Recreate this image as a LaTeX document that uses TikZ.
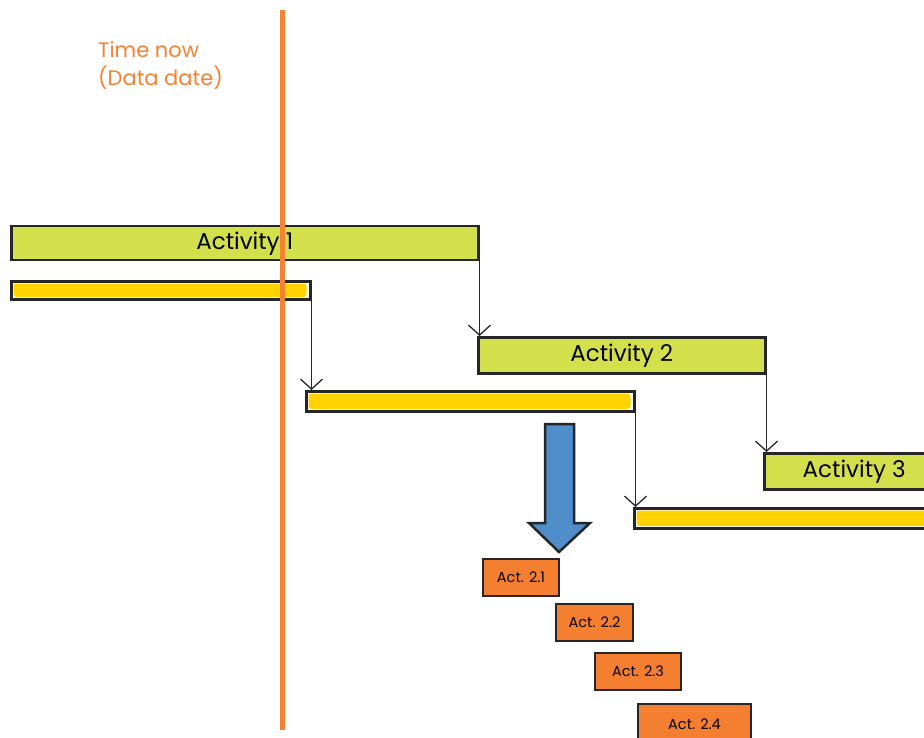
\documentclass[tikz,border=0pt]{standalone}
\usepackage{fontspec}
\setmainfont{Poppins}
\usetikzlibrary{arrows.meta,positioning}

\definecolor{nowline}{HTML}{F58233}
\definecolor{actgreen}{HTML}{D4E04B}
\definecolor{progyellow}{HTML}{FFD200}
\definecolor{pushblue}{HTML}{4F8DCB}
\definecolor{subfill}{HTML}{F47F30}

\begin{document}
\begin{tikzpicture}[x=1pt, y=-1pt, >={Straight Barb[length=10pt,width=22pt]},
    act/.style={draw=black!85, line width=2.5pt, fill=actgreen, anchor=north west,
        inner sep=0pt, font=\fontsize{23}{23}\selectfont},
    prog/.style={draw=black!85, line width=2.5pt, fill=white, anchor=north west, inner sep=0pt},
    sub/.style={draw=black!85, line width=2pt, fill=subfill, anchor=north west,
        inner sep=0pt, font=\fontsize{14.5}{14.5}\selectfont},
    link/.style={->, line width=1.3pt, black!85}]
    \clip (0,0) rectangle (924,738);

    % activities
    \node[act, minimum width=467pt, minimum height=34pt] (act1) at (10,225) {Activity 1};
    \node[act, minimum width=287pt, minimum height=36pt] (act2) at (477,336) {Activity 2};
    \node[act, minimum width=180pt, minimum height=36pt] (act3) at (763,452) {Activity 3};

    % progress bars
    \node[prog, minimum width=299pt, minimum height=18pt] (prog1) at (10,280) {};
    \node[prog, minimum width=328pt, minimum height=20pt] (prog2) at (305,390) {};
    \node[prog, minimum width=317pt, minimum height=20pt] (prog3) at (633,507) {};
    \foreach \p in {prog1,prog2,prog3}
        \fill[progyellow, rounded corners=3pt] ([shift={(3.5pt,-3.5pt)}]\p.north west)
            rectangle ([shift={(-5pt,3.5pt)}]\p.south east);

    % links
    \draw[link] (act1.south east) -- (act1.south east |- act2.north);
    \draw[link] (prog1.south east) -- (prog1.south east |- prog2.north);
    \draw[link] (act2.south east) -- (act2.south east |- act3.north);
    \draw[link] (prog2.south east) -- (prog2.south east |- prog3.north);

    % break down
    \draw[fill=pushblue, draw=black!85, line width=2.5pt, line join=miter]
        (545,424) -- (574,424) -- (574,523) -- (590,523) -- (559,552)
        -- (529,523) -- (545,523) -- cycle;

    \node[sub, minimum width=76pt, minimum height=37pt] (sub1) at (482,558) {Act. 2.1};
    \node[sub, minimum width=77pt, minimum height=37pt] (sub2) at (555,603) {Act. 2.2};
    \node[sub, minimum width=86pt, minimum height=37pt] (sub3) at (594,652) {Act. 2.3};
    \node[sub, minimum width=113pt, minimum height=40pt] (sub4) at (637,703) {Act. 2.4};

    % time now
    \draw[nowline, line width=5pt] (282,10) -- (282,730);
    \node[anchor=north west, align=left, text=nowline, inner sep=0pt,
        font=\fontsize{21}{28}\selectfont] (now) at (98,41) {Time now\\(Data date)};
\end{tikzpicture}
\end{document}
